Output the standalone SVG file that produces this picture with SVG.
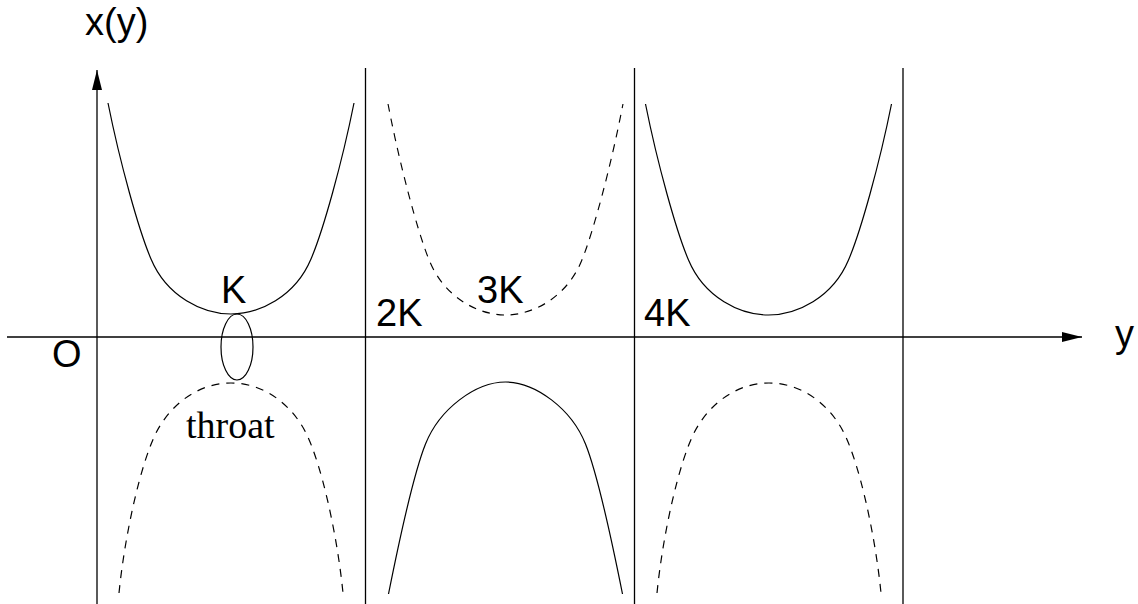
<svg xmlns="http://www.w3.org/2000/svg" xmlns:xlink="http://www.w3.org/1999/xlink" width="1138" height="604" viewBox="0 0 1138 604">
<style>
.ax{stroke:#000;stroke-width:1.3;fill:none}
.c{stroke:#000;stroke-width:1.2;fill:none}
.d{stroke:#000;stroke-width:1.2;fill:none;stroke-dasharray:8 7}
.t{font-family:"Liberation Sans",Arial,sans-serif;font-size:38px;fill:#000}
.s{font-family:"Liberation Serif","Times New Roman",serif;font-size:38px;fill:#000}
</style>
<defs>
<marker id="ah" markerWidth="20" markerHeight="10" refX="20" refY="5" orient="auto" markerUnits="userSpaceOnUse">
<polygon points="0,0 20,5 0,10" fill="#000"/>
</marker>
<path id="u" d="M-123,-211 C-111,-151 -92,-83 -80,-55 C-64,-17 -28,0 0,0 C28,0 64,-17 80,-55 C92,-83 111,-151 123,-211"/>
<path id="ns" d="M-117,212 C-107,162 -92,92 -80,62 C-66,27 -30,0 0,0 C30,0 66,27 80,62 C92,92 107,162 117,212"/>
<path id="nd" d="M-112,210 C-106,150 -90,80 -75,50 C-62,24 -35,0 0,0 C35,0 62,24 75,50 C90,80 106,150 112,210"/>
</defs>
<rect width="1138" height="604" fill="#fff"/>
<g id="axes">
<line class="ax" x1="97" y1="604" x2="97" y2="70" marker-end="url(#ah)"/>
<line class="ax" x1="7" y1="337" x2="1082" y2="337" marker-end="url(#ah)"/>
<line class="ax" x1="365.5" y1="68" x2="365.5" y2="604"/>
<line class="ax" x1="634.5" y1="68" x2="634.5" y2="604"/>
<line class="ax" x1="903" y1="68" x2="903" y2="604"/>
</g>
<g id="curves">
<use xlink:href="#u" href="#u" class="c" transform="translate(231,314)"/>
<use xlink:href="#u" href="#u" class="d" transform="translate(505.5,315) scale(0.955,1)"/>
<use xlink:href="#u" href="#u" class="c" transform="translate(768.5,315)"/>
<use xlink:href="#nd" href="#nd" class="d" transform="translate(231,383)"/>
<use xlink:href="#ns" href="#ns" class="c" transform="translate(505.5,382)"/>
<use xlink:href="#nd" href="#nd" class="d" transform="translate(769,383)"/>
</g>
<g id="throat">
<ellipse class="c" cx="237" cy="347" rx="16" ry="33"/>
<text class="s" x="186" y="438">throat</text>
</g>
<g id="labels">
<text class="t" x="85" y="35">x(y)</text>
<text class="t" x="1115" y="347">y</text>
<text class="t" x="52" y="367">O</text>
<text class="t" x="221" y="303">K</text>
<text class="t" x="376" y="326">2K</text>
<text class="t" x="477" y="303">3K</text>
<text class="t" x="644" y="326">4K</text>
</g>
</svg>
